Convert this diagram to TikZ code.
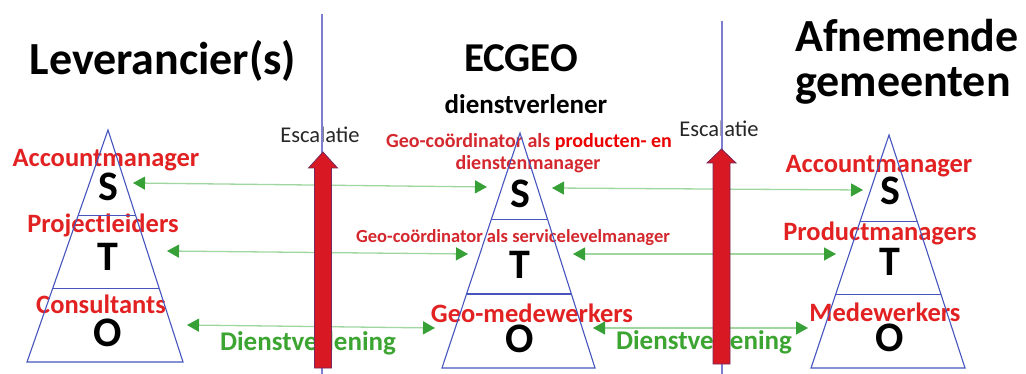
\documentclass[tikz,border=0pt]{standalone}
\usepackage{fontspec}
\setmainfont{Carlito}
\usetikzlibrary{arrows.meta,calc}

\definecolor{labelred}{RGB}{226,34,34}
\definecolor{geored}{RGB}{212,40,46}
\definecolor{brightred}{RGB}{236,0,0}
\definecolor{dvgreen}{RGB}{60,165,50}
\definecolor{headgreen}{RGB}{55,160,55}
\definecolor{linegreen}{RGB}{160,215,160}
\definecolor{pyrblue}{RGB}{70,85,190}
\definecolor{sepblue}{RGB}{125,125,212}
\definecolor{escred}{RGB}{216,24,34}
\definecolor{escedge}{RGB}{120,40,90}

\begin{document}
\begin{tikzpicture}[x=1pt, y=-1pt,
        heading/.style={font=\bfseries\fontsize{46}{50}\selectfont, anchor=base, inner sep=0pt},
        subheading/.style={font=\bfseries\fontsize{27}{30}\selectfont, anchor=base, inner sep=0pt},
        level/.style={font=\bfseries\fontsize{42}{44}\selectfont, inner sep=0pt},
        role/.style={font=\bfseries\fontsize{26.5}{29}\selectfont, text=labelred, anchor=base, inner sep=0pt},
        geolabel/.style={font=\bfseries\fontsize{20}{22}\selectfont, text=geored, anchor=base, inner sep=0pt},
        service/.style={font=\bfseries\fontsize{27}{29}\selectfont, text=dvgreen, anchor=base, inner sep=0pt},
        escnote/.style={font=\fontsize{22.5}{25}\selectfont, text=black!85, anchor=base, inner sep=0pt},
        pyramid/.style={draw=pyrblue, line width=1.1pt},
        divider/.style={draw=sepblue, line width=1.2pt},
        escarrow/.style={fill=escred, draw=escedge, line width=0.8pt},
        link/.style={draw=linegreen, line width=1.3pt,
                     {Triangle[length=12pt, width=13pt, color=headgreen]}-{Triangle[length=12pt, width=13pt, color=headgreen]}},
    ]

    \fill[white] (0,0) rectangle (1026,374);
    \useasboundingbox (0,0) rectangle (1026,374);

    % headings
    \node[heading] (lev-head) at (163,75) {Leverancier(s)};
    \node[heading, font=\bfseries\fontsize{41}{44}\selectfont] (ecg-head) at (521,72) {ECGEO};
    \node[subheading] (ecg-sub) at (526,114) {dienstverlener};
    \node[heading] (afn-head1) at (907,52) {Afnemende};
    \node[heading] (afn-head2) at (903,97) {gemeenten};

    % roles next to the levels
    \node[role] (lev-acc) at (106,167) {Accountmanager};
    \node[role] (lev-proj) at (103,233) {Projectleiders};
    \node[role] (lev-cons) at (101,313) {Consultants};
    \node[geolabel] (ecg-pdm1) at (529,148) {Geo-coördinator als \textcolor{brightred}{producten- en}};
    \node[geolabel] (ecg-pdm2) at (528,170) {dienstenmanager};
    \node[geolabel, font=\bfseries\fontsize{18.5}{21}\selectfont] (ecg-slm) at (513,243) {Geo-coördinator als servicelevelmanager};
    \node[role] (ecg-mw) at (532,322) {Geo-medewerkers};
    \node[role] (afn-acc) at (879,173) {Accountmanager};
    \node[role] (afn-pm) at (880,241) {Productmanagers};
    \node[role] (afn-mw) at (885,321) {Medewerkers};

    \node[service] (dv-l) at (308,350) {Dienstverlening};
    \node[service] (dv-r) at (704,349) {Dienstverlening};
    \node[escnote] (esc-l) at (320,143) {Escalatie};
    \node[escnote] (esc-r) at (719,137) {Escalatie};

    % S/T/O pyramids
    \foreach \name/\ax/\ay/\bl/\br/\by in {lev/108/130/27/183/362, ecg/520/133/442/595/368, afn/889/135/811/965/368} {
        \coordinate (\name-top) at (\ax,\ay);
        \coordinate (\name-bl) at (\bl,\by);
        \coordinate (\name-br) at (\br,\by);
        \draw[pyramid] (\name-top) -- (\name-bl) -- (\name-br) -- cycle;
        \draw[pyramid] ($(\name-top)!0.37!(\name-bl)$) -- ($(\name-top)!0.37!(\name-br)$);
        \draw[pyramid] ($(\name-top)!0.685!(\name-bl)$) -- ($(\name-top)!0.685!(\name-br)$);
    }

    \node[level] (lev-s) at (108,187) {S};
    \node[level] (lev-t) at (108,257) {T};
    \node[level] (lev-o) at (108,333) {O};
    \node[level] (ecg-s) at (520,194) {S};
    \node[level] (ecg-t) at (520,265) {T};
    \node[level] (ecg-o) at (520,339) {O};
    \node[level] (afn-s) at (890,191) {S};
    \node[level] (afn-t) at (890,262) {T};
    \node[level] (afn-o) at (890,338) {O};

    % separators
    \draw[divider] (322,14) -- (322,374);
    \draw[divider] (722,21) -- (722,374);

    % contacts per level
    \coordinate (lev-s-end) at (133,183);
    \coordinate (ecg-s-in) at (487,187);
    \coordinate (ecg-s-out) at (552,188);
    \coordinate (afn-s-end) at (863,190);
    \coordinate (lev-t-end) at (167,251);
    \coordinate (ecg-t-in) at (468,254);
    \coordinate (ecg-t-out) at (573,254);
    \coordinate (afn-t-end) at (836,254);
    \coordinate (lev-o-end) at (187,325);
    \coordinate (ecg-o-in) at (435,328);
    \coordinate (ecg-o-out) at (593,328);
    \coordinate (afn-o-end) at (808,328);

    \draw[link] (lev-s-end) -- (ecg-s-in);
    \draw[link] (ecg-s-out) -- (afn-s-end);
    \draw[link] (lev-t-end) -- (ecg-t-in);
    \draw[link] (ecg-t-out) -- (afn-t-end);
    \draw[link] (lev-o-end) -- (ecg-o-in);
    \draw[link] (ecg-o-out) -- (afn-o-end);

    % escalation arrows
    \foreach \x/\tip/\base/\bot in {323/152/168/368, 721.5/149/163/364} {
        \draw[escarrow] (\x-8.5,\bot) -- (\x-8.5,\base) -- (\x-14.5,\base) -- (\x,\tip)
            -- (\x+14.5,\base) -- (\x+8.5,\base) -- (\x+8.5,\bot) -- cycle;
    }
\end{tikzpicture}
\end{document}
